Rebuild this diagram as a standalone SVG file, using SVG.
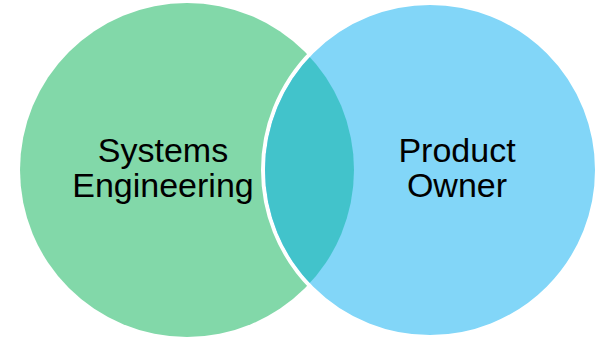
<svg xmlns="http://www.w3.org/2000/svg" width="605" height="337" viewBox="0 0 605 337">
  <style>
    .lbl { font-family: "Liberation Sans", Arial, sans-serif; font-size: 34px; fill: #000000; text-anchor: middle; }
  </style>
  <defs>
    <clipPath id="blueInner">
      <circle cx="430" cy="170" r="165"/>
    </clipPath>
  </defs>
  <rect width="605" height="337" fill="#ffffff"/>
  <g id="systems-engineering">
    <circle cx="187" cy="170" r="167" fill="#82D8A9"/>
  </g>
  <g id="product-owner">
    <circle cx="430" cy="170" r="167" fill="#82D6F8" stroke="#ffffff" stroke-width="4"/>
  </g>
  <g id="overlap">
    <circle cx="187" cy="170" r="167" fill="#42C3CB" clip-path="url(#blueInner)"/>
  </g>
  <g id="labels">
    <text class="lbl" x="163" y="162">Systems</text>
    <text class="lbl" x="163" y="197">Engineering</text>
    <text class="lbl" x="457" y="162">Product</text>
    <text class="lbl" x="457" y="197">Owner</text>
  </g>
</svg>
